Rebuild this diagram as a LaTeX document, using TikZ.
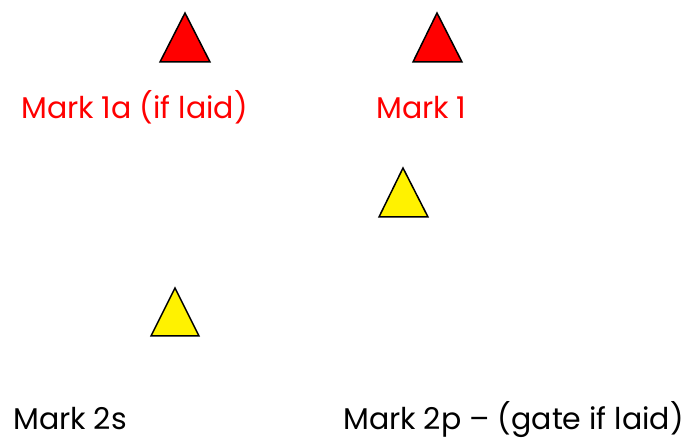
\documentclass[tikz,border=0pt]{standalone}
\usepackage{fontspec}
\setmainfont{Poppins}

\tikzset{marktext/.style={anchor=base west, inner sep=0pt, font=\fontsize{30}{35}\selectfont}}

\begin{document}
\begin{tikzpicture}[x=1pt,y=1pt]

\useasboundingbox (0,0) rectangle (691,441);

\filldraw[fill=red, draw=black, line width=1.5pt] (160,379) -- (185,428) -- (210,379) -- cycle;
\filldraw[fill=red, draw=black, line width=1.5pt] (413,379) -- (437,428) -- (462,379) -- cycle;

\filldraw[fill=yellow, draw=black, line width=1.5pt] (379,224) -- (403,273) -- (428,224) -- cycle;
\filldraw[fill=yellow, draw=black, line width=1.5pt] (151,105) -- (175,153) -- (199,105) -- cycle;

\node[marktext, text=red] (mark1a) at (21,322) {Mark 1a (if laid)};
\node[marktext, text=red] (mark1) at (376,322) {Mark 1};

\node[marktext] (mark2s) at (13,11) {Mark 2s};
\node[marktext] (mark2p) at (343,11) {Mark 2p – (gate if laid)};

\end{tikzpicture}
\end{document}
